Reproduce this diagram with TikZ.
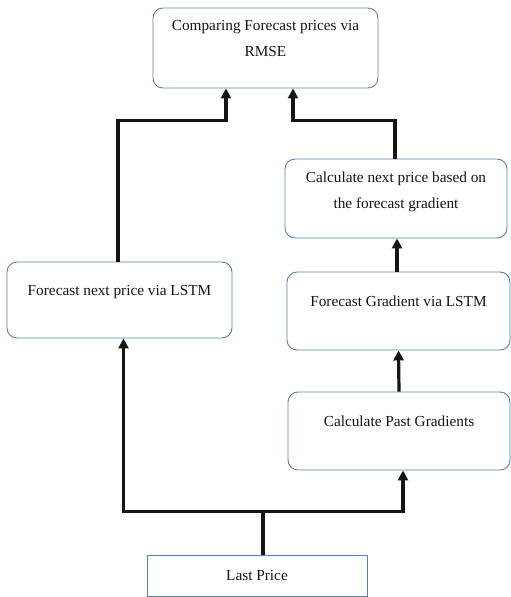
\documentclass[tikz,border=0pt]{standalone}
\usepackage{fontspec}
\setmainfont{Liberation Serif}
\usetikzlibrary{arrows.meta, positioning}
\definecolor{boxline}{RGB}{88, 128, 172}
\definecolor{ink}{RGB}{20, 20, 20}

\begin{document}
\begin{tikzpicture}[x=1pt, y=1pt,
    stage/.style={draw=boxline, line width=0.9pt, rounded corners=10pt,
      minimum width=223pt, minimum height=78pt, inner sep=0pt},
    txt/.style={font=\fontsize{15.3}{26}\selectfont, text=ink, align=center, inner sep=0pt},
    wire/.style={draw=ink, line width=3.2pt},
    flow/.style={wire, -{Triangle[length=10pt, width=10pt]}},
  ]
  \useasboundingbox (0,0) rectangle (511,-597);

  \node[stage, minimum width=225pt, minimum height=80pt] (cmp) at (265.5,-48) {};
  \node[txt, below=13pt of cmp.north] (cmpT) {Comparing Forecast prices via\\RMSE};

  \node[stage, minimum width=225pt, minimum height=76pt] (lstm) at (119.5,-300) {};
  \node[txt, below=24pt of lstm.north] (lstmT) {Forecast next price via LSTM};

  \node[stage, minimum width=222pt, minimum height=79pt] (next) at (396,-198.5) {};
  \node[txt, below=13pt of next.north] (nextT) {Calculate next price based on\\the forecast gradient};

  \node[stage] (grad) at (398.5,-311) {};
  \node[txt, below=24pt of grad.north] (gradT) {Forecast Gradient via LSTM};

  \node[stage, minimum width=222pt] (past) at (399,-431) {};
  \node[txt, below=24pt of past.north] (pastT) {Calculate Past Gradients};

  \node[stage, rounded corners=0pt, minimum width=220pt, minimum height=41pt, txt] (last) at (257,-575.5) {Last Price};

  \coordinate (inL) at ([xshift=-39.5pt]cmp.south);
  \coordinate (inR) at ([xshift=27.5pt]cmp.south);

  \draw[wire] ([xshift=6pt]last.north) -- ++(0,43) coordinate (split);
  \draw[flow] (split) -| ([xshift=4pt]lstm.south);
  \draw[flow] (split) -| ([xshift=4pt]past.south);
  \draw[flow] (past.north) -- (grad.south);
  \draw[flow] ([xshift=-1.5pt]grad.north) -- ([xshift=1pt]next.south);
  \draw[flow] ([xshift=-1.5pt]lstm.north) -- ++(0,141) -| (inL);
  \draw[flow] ([xshift=-1pt]next.north) -- ++(0,38) -| (inR);
\end{tikzpicture}
\end{document}
